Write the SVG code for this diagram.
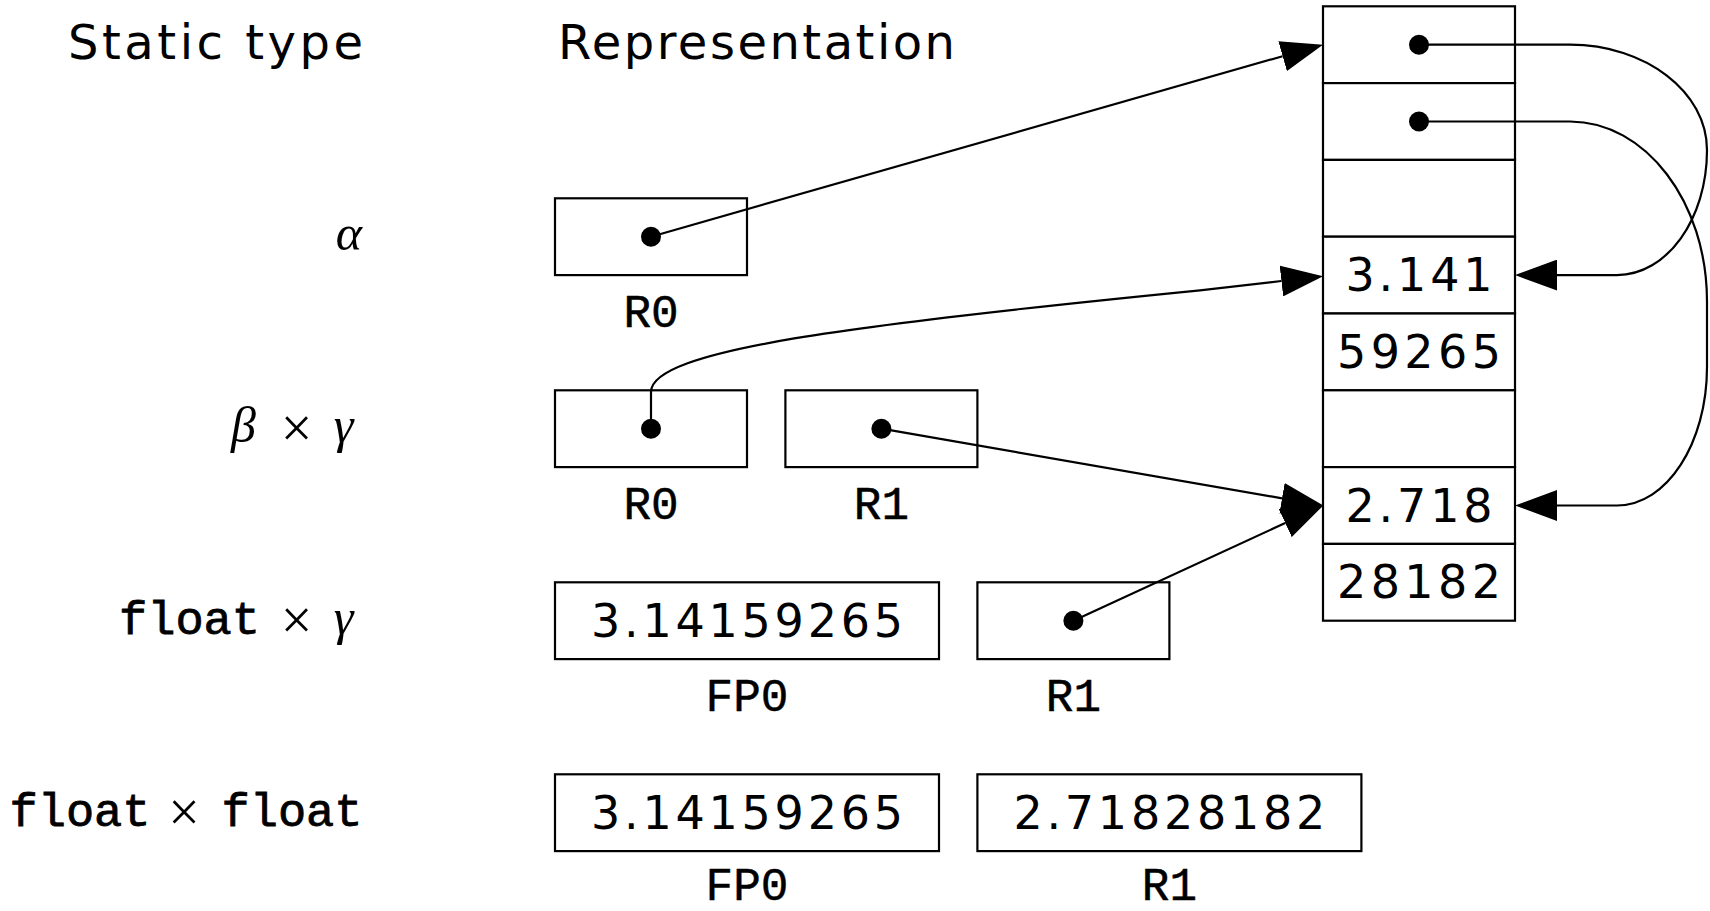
<svg xmlns="http://www.w3.org/2000/svg" width="1710" height="911" viewBox="0 0 1710 911">
  <style>
    .box { fill: #ffffff; stroke: #000000; stroke-width: 2.2; }
    .edge { fill: none; stroke: #000000; stroke-width: 2.2; }
    .dot { fill: #000000; }
    .head { font-family: "DejaVu Sans", Verdana, sans-serif; font-size: 48px; fill: #000000; }
    .num { font-family: "DejaVu Sans", Verdana, sans-serif; font-size: 46px; fill: #000000; text-anchor: middle; }
    .reg { font-family: "Liberation Mono", "Courier New", monospace; font-size: 46px; fill: #000000; stroke: #000000; stroke-width: 0.5; text-anchor: middle; }
    .tt { font-family: "Liberation Mono", "Courier New", monospace; font-size: 47px; fill: #000000; stroke: #000000; stroke-width: 0.8; }
    .math { font-family: "Liberation Serif", "Times New Roman", serif; font-size: 50px; font-style: italic; fill: #000000; }
    .op { font-family: "Liberation Serif", "Times New Roman", serif; font-size: 56px; fill: #000000; }
  </style>
  <defs>
    <marker id="arrow" markerUnits="userSpaceOnUse" viewBox="0 0 42 31" markerWidth="42" markerHeight="31" refX="0" refY="15.5" orient="auto">
      <path d="M0,0 L42,15.5 L0,31 Z" fill="#000000"/>
    </marker>
  </defs>

  <!-- column headings -->
  <g id="headings">
    <text class="head" x="68" y="59" textLength="295" lengthAdjust="spacing">Static type</text>
    <text class="head" x="558" y="59" textLength="397" lengthAdjust="spacing">Representation</text>
  </g>

  <!-- static type labels -->
  <g id="type-alpha">
    <text class="math" x="362" y="250" text-anchor="end">α</text>
  </g>
  <g id="type-beta-gamma">
    <text y="442" text-anchor="middle">
      <tspan class="math" x="245.5">β</tspan>
      <tspan class="op" x="298.5" dy="5">×</tspan>
      <tspan class="math" x="343.5" dy="-5">γ</tspan>
    </text>
  </g>
  <g id="type-float-gamma">
    <text y="634" text-anchor="middle">
      <tspan class="tt" x="191.5">float</tspan>
      <tspan class="op" x="298.5" dy="5">×</tspan>
      <tspan class="math" x="343.5" dy="-5">γ</tspan>
    </text>
  </g>
  <g id="type-float-float">
    <text y="826" text-anchor="middle">
      <tspan class="tt" x="82">float</tspan>
      <tspan class="op" x="186" dy="5">×</tspan>
      <tspan class="tt" x="292" dy="-5">float</tspan>
    </text>
  </g>

  <!-- registers -->
  <g id="alpha-r0">
    <rect class="box" x="555" y="198.3" width="192" height="76.8"/>
    <circle class="dot" cx="651" cy="236.7" r="10"/>
    <text class="reg" x="651" y="327">R0</text>
  </g>
  <g id="bg-r0">
    <rect class="box" x="555" y="390.3" width="192" height="76.8"/>
    <circle class="dot" cx="651" cy="428.7" r="10"/>
    <text class="reg" x="651" y="519">R0</text>
  </g>
  <g id="bg-r1">
    <rect class="box" x="785.4" y="390.3" width="192" height="76.8"/>
    <circle class="dot" cx="881.4" cy="428.7" r="10"/>
    <text class="reg" x="881.4" y="519">R1</text>
  </g>
  <g id="fg-fp0">
    <rect class="box" x="555" y="582.3" width="384" height="76.8"/>
    <text class="num" x="747" y="637" textLength="312" lengthAdjust="spacing">3.14159265</text>
    <text class="reg" x="747" y="711">FP0</text>
  </g>
  <g id="fg-r1">
    <rect class="box" x="977.4" y="582.3" width="192" height="76.8"/>
    <circle class="dot" cx="1073.4" cy="620.7" r="10"/>
    <text class="reg" x="1073.4" y="711">R1</text>
  </g>
  <g id="ff-fp0">
    <rect class="box" x="555" y="774.3" width="384" height="76.8"/>
    <text class="num" x="747" y="829" textLength="312" lengthAdjust="spacing">3.14159265</text>
    <text class="reg" x="747" y="900">FP0</text>
  </g>
  <g id="ff-r1">
    <rect class="box" x="977.4" y="774.3" width="384" height="76.8"/>
    <text class="num" x="1169.4" y="829" textLength="312" lengthAdjust="spacing">2.71828182</text>
    <text class="reg" x="1169.4" y="900">R1</text>
  </g>

  <!-- heap cells -->
  <g id="heap">
    <rect class="box" x="1323" y="6.3" width="192" height="76.8"/>
    <rect class="box" x="1323" y="83.1" width="192" height="76.8"/>
    <rect class="box" x="1323" y="159.9" width="192" height="76.8"/>
    <rect class="box" x="1323" y="236.7" width="192" height="76.8"/>
    <rect class="box" x="1323" y="313.5" width="192" height="76.8"/>
    <rect class="box" x="1323" y="390.3" width="192" height="76.8"/>
    <rect class="box" x="1323" y="467.1" width="192" height="76.8"/>
    <rect class="box" x="1323" y="543.9" width="192" height="76.8"/>
    <circle class="dot" cx="1419" cy="44.7" r="10"/>
    <circle class="dot" cx="1419" cy="121.5" r="10"/>
    <text class="num" x="1419" y="291" textLength="147" lengthAdjust="spacing">3.141</text>
    <text class="num" x="1419" y="368" textLength="164" lengthAdjust="spacing">59265</text>
    <text class="num" x="1419" y="521.5" textLength="147" lengthAdjust="spacing">2.718</text>
    <text class="num" x="1419" y="598" textLength="164" lengthAdjust="spacing">28182</text>
  </g>

  <!-- pointers -->
  <g id="edges">
    <path class="edge" marker-end="url(#arrow)" d="M651,236.7 L1282.6,56.2"/>
    <path class="edge" marker-end="url(#arrow)" d="M651,428.7 V392 C651,350 850,325 1200,290.3 L1281.4,281"/>
    <path class="edge" marker-end="url(#arrow)" d="M881.4,428.7 L1282,498.3"/>
    <path class="edge" marker-end="url(#arrow)" d="M1073.4,620.7 L1285.2,523"/>
    <path class="edge" marker-end="url(#arrow)" d="M1419,44.7 H1570 C1645.6,44.7 1707,92 1707,150 C1707,219.4 1666.7,275.1 1617,275.1 H1557"/>
    <path class="edge" marker-end="url(#arrow)" d="M1419,121.5 H1570 C1645.6,121.5 1707,202.1 1707,301.5 V367 C1707,443.5 1666.7,505.5 1617,505.5 H1557"/>
  </g>
</svg>
